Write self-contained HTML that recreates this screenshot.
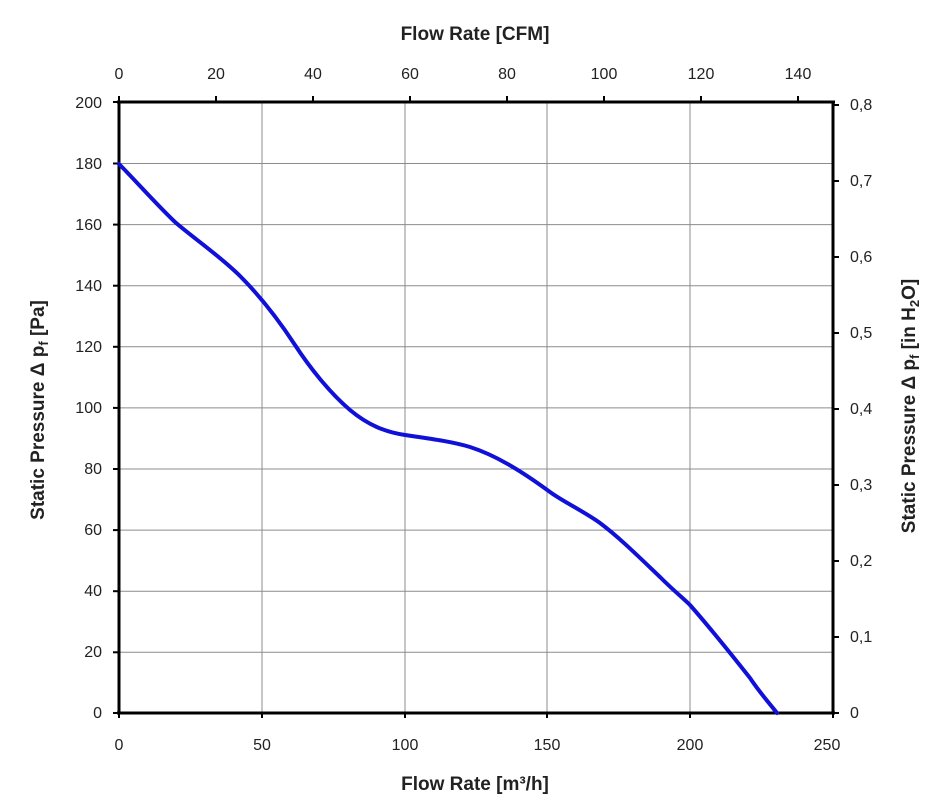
<!DOCTYPE html>
<html><head><style>body{margin:0;background:#fff}svg{display:block}</style></head><body>
<svg width="949" height="808" viewBox="0 0 949 808" xmlns="http://www.w3.org/2000/svg" font-family="Liberation Sans, Arial, sans-serif">
<rect width="949" height="808" fill="#fff"/>
<g stroke="#8c8c8c" stroke-width="1">
<line x1="262" y1="102" x2="262" y2="713"/><line x1="405" y1="102" x2="405" y2="713"/><line x1="547" y1="102" x2="547" y2="713"/><line x1="690" y1="102" x2="690" y2="713"/>
<line x1="119" y1="163.5" x2="833" y2="163.5"/><line x1="119" y1="224.6" x2="833" y2="224.6"/><line x1="119" y1="285.7" x2="833" y2="285.7"/><line x1="119" y1="346.8" x2="833" y2="346.8"/><line x1="119" y1="407.9" x2="833" y2="407.9"/><line x1="119" y1="469" x2="833" y2="469"/><line x1="119" y1="530.1" x2="833" y2="530.1"/><line x1="119" y1="591.2" x2="833" y2="591.2"/><line x1="119" y1="652.3" x2="833" y2="652.3"/>
</g>
<g stroke="#000" stroke-width="3" fill="none">
<line x1="119" y1="101" x2="119" y2="714"/><line x1="833" y1="101" x2="833" y2="714"/>
<line x1="117" y1="102" x2="835" y2="102"/><line x1="117" y1="713" x2="835" y2="713"/>
</g>
<g stroke="#000" stroke-width="2">
<line x1="113" y1="102" x2="119" y2="102"/><line x1="113" y1="163.5" x2="119" y2="163.5"/><line x1="113" y1="224.6" x2="119" y2="224.6"/><line x1="113" y1="285.7" x2="119" y2="285.7"/><line x1="113" y1="346.8" x2="119" y2="346.8"/><line x1="113" y1="407.9" x2="119" y2="407.9"/><line x1="113" y1="469" x2="119" y2="469"/><line x1="113" y1="530.1" x2="119" y2="530.1"/><line x1="113" y1="591.2" x2="119" y2="591.2"/><line x1="113" y1="652.3" x2="119" y2="652.3"/><line x1="113" y1="713" x2="119" y2="713"/>
<line x1="833" y1="713" x2="839" y2="713"/><line x1="833" y1="637" x2="839" y2="637"/><line x1="833" y1="561" x2="839" y2="561"/><line x1="833" y1="485" x2="839" y2="485"/><line x1="833" y1="409" x2="839" y2="409"/><line x1="833" y1="333" x2="839" y2="333"/><line x1="833" y1="257" x2="839" y2="257"/><line x1="833" y1="181" x2="839" y2="181"/><line x1="833" y1="105" x2="839" y2="105"/>
<line x1="119" y1="96" x2="119" y2="102"/><line x1="216" y1="96" x2="216" y2="102"/><line x1="313" y1="96" x2="313" y2="102"/><line x1="410" y1="96" x2="410" y2="102"/><line x1="507" y1="96" x2="507" y2="102"/><line x1="604" y1="96" x2="604" y2="102"/><line x1="701" y1="96" x2="701" y2="102"/><line x1="798" y1="96" x2="798" y2="102"/>
<line x1="119" y1="713" x2="119" y2="718"/><line x1="262" y1="713" x2="262" y2="718"/><line x1="405" y1="713" x2="405" y2="718"/><line x1="547" y1="713" x2="547" y2="718"/><line x1="690" y1="713" x2="690" y2="718"/><line x1="833" y1="713" x2="833" y2="718"/>
</g>
<path d="M119,164 C133,178 158,206 175,222 C192,237 220,256 240,276 C260,296 280,322 295,345 C310,368 330,393 350,410 C368,425 385,432 405,435 C425,438 450,441 470,447 C495,455 520,470 550,492 C562,501 585,512 600,523 C620,538 640,558 660,577 C675,592 682,597 690,605 C712,630 735,659 750,678 C760,693 770,704 777,713" fill="none" stroke="#1010d8" stroke-width="4" stroke-linecap="round"/>
<g font-size="16" fill="#222" text-anchor="end">
<text x="102" y="108">200</text><text x="102" y="169">180</text><text x="102" y="230">160</text><text x="102" y="291">140</text><text x="102" y="352">120</text><text x="102" y="413">100</text><text x="102" y="474">80</text><text x="102" y="535">60</text><text x="102" y="596">40</text><text x="102" y="657">20</text><text x="102" y="718">0</text>
</g>
<g font-size="16" fill="#222" text-anchor="start">
<text x="850" y="718">0</text><text x="850" y="642">0,1</text><text x="850" y="566">0,2</text><text x="850" y="490">0,3</text><text x="850" y="414">0,4</text><text x="850" y="338">0,5</text><text x="850" y="262">0,6</text><text x="850" y="186">0,7</text><text x="850" y="110">0,8</text>
</g>
<g font-size="16" fill="#222" text-anchor="middle">
<text x="119" y="79">0</text><text x="216" y="79">20</text><text x="313" y="79">40</text><text x="410" y="79">60</text><text x="507" y="79">80</text><text x="604" y="79">100</text><text x="701" y="79">120</text><text x="798" y="79">140</text>
<text x="119" y="750">0</text><text x="262" y="750">50</text><text x="405" y="750">100</text><text x="547" y="750">150</text><text x="690" y="750">200</text><text x="827" y="750">250</text>
</g>
<g font-size="19" font-weight="bold" fill="#222" text-anchor="middle">
<text x="475" y="40">Flow Rate [CFM]</text>
<text x="475" y="790">Flow Rate [m³/h]</text>
<text transform="translate(44,410) rotate(-90)">Static Pressure Δ p<tspan font-size="13" dy="4">f</tspan><tspan dy="-4"> [Pa]</tspan></text>
<text transform="translate(915,406) rotate(-90)">Static Pressure Δ p<tspan font-size="13" dy="4">f</tspan><tspan dy="-4"> [in H</tspan><tspan font-size="13" dy="4">2</tspan><tspan dy="-4">O]</tspan></text>
</g>
</svg>
</body></html>
